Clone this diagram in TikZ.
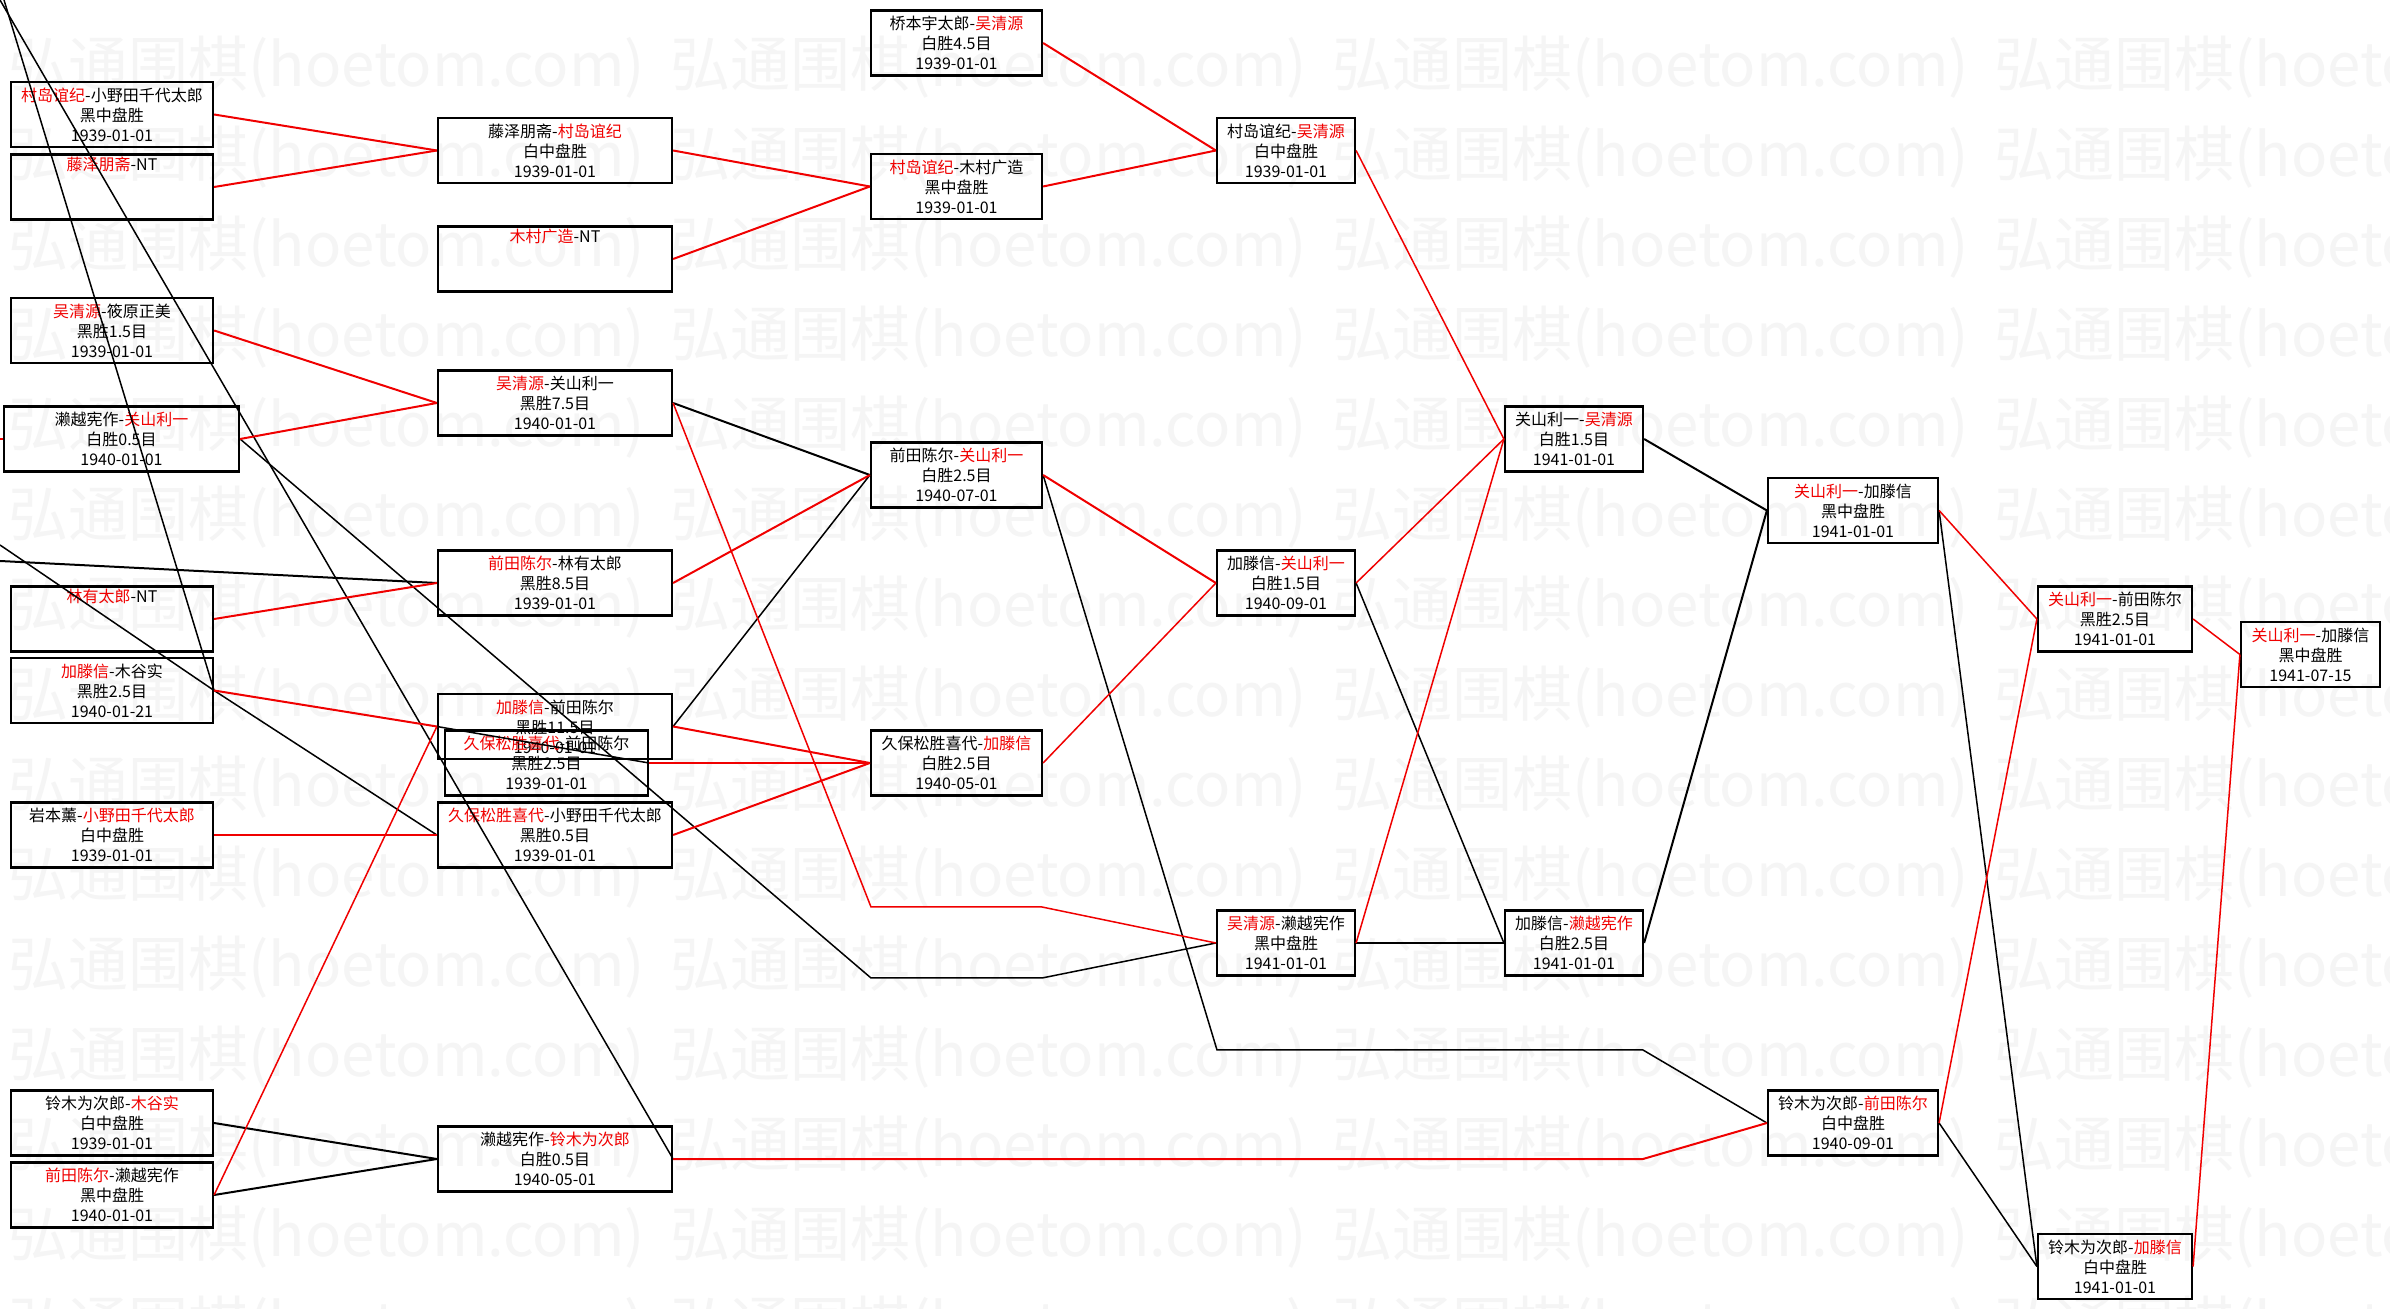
\documentclass[tikz,border=0pt]{standalone}
\usepackage{fontspec}
\setmainfont{Noto Sans CJK SC}
\usepackage{tikz}
\definecolor{hoetomred}{RGB}{240,0,0}
\newcommand{\winner}[1]{\textcolor{hoetomred}{#1}}
\tikzset{
	gamebox/.style={draw=black, line width=1.1pt, inner sep=0pt, minimum height=32.5pt,
		align=center, font=\fontsize{8pt}{10pt}\selectfont}
}
\tikzset{
	watermark/.style={text=black!4, inner sep=0pt, anchor=west, font=\fontsize{30pt}{30pt}\selectfont}
}

\begin{document}
\begin{tikzpicture}[x=0.5pt, y=-0.5pt]

	\tikzset{
		winline/.style={draw=hoetomred, line width=1pt},
		loseline/.style={draw=black, line width=1pt},
		thinwin/.style={draw=hoetomred, line width=0.75pt},
		thinlose/.style={draw=black, line width=0.75pt}
	}

	\useasboundingbox (0,0) rectangle (2390,1309);
	\fill[white] (0,0) rectangle (2390,1309);
	\clip (0,0) rectangle (2390,1309);

	% watermark rows
	\foreach \r in {0,...,14}
		\foreach \c in {0,...,3}
			\node[watermark, name=wm\r-\c] at (8+662*\c, 67+90*\r) {弘通围棋(hoetom.com)};

	% round 1
	\node[gamebox, minimum width=101pt] (n1) at (112,114.5) {\winner{村岛谊纪}-小野田千代太郎\\黑中盘胜\\1939-01-01};
	\node[gamebox, minimum width=101pt] (n2) at (112,187) {\winner{藤泽朋斋}-NT\\\strut\\\strut};
	\node[gamebox, minimum width=101pt] (n3) at (112,330.5) {\winner{吴清源}-筱原正美\\黑胜1.5目\\1939-01-01};
	\node[gamebox, minimum width=117.5pt] (n4) at (121.5,439) {濑越宪作-\winner{关山利一}\\白胜0.5目\\1940-01-01};
	\node[gamebox, minimum width=101pt] (n5) at (112,619) {\winner{林有太郎}-NT\\\strut\\\strut};
	\node[gamebox, minimum width=101pt] (n6) at (112,690.5) {\winner{加滕信}-木谷实\\黑胜2.5目\\1940-01-21};
	\node[gamebox, minimum width=101pt] (n7) at (112,835) {岩本薰-\winner{小野田千代太郎}\\白中盘胜\\1939-01-01};
	\node[gamebox, minimum width=101pt] (n8) at (112,1123) {铃木为次郎-\winner{木谷实}\\白中盘胜\\1939-01-01};
	\node[gamebox, minimum width=101pt] (n9) at (112,1195) {\winner{前田陈尔}-濑越宪作\\黑中盘胜\\1940-01-01};

	% round 2
	\node[gamebox, minimum width=117pt] (m1) at (555,150.5) {藤泽朋斋-\winner{村岛谊纪}\\白中盘胜\\1939-01-01};
	\node[gamebox, minimum width=117pt] (m2) at (555,259) {\winner{木村广造}-NT\\\strut\\\strut};
	\node[gamebox, minimum width=117pt] (m3) at (555,403) {\winner{吴清源}-关山利一\\黑胜7.5目\\1940-01-01};
	\node[gamebox, minimum width=117pt] (m4) at (555,583) {\winner{前田陈尔}-林有太郎\\黑胜8.5目\\1939-01-01};
	\node[gamebox, minimum width=117pt] (m5) at (555,726.5) {\winner{加滕信}-前田陈尔\\黑胜11.5目\\1940-01-01};
	\node[gamebox, minimum width=101.5pt] (m6) at (546.5,763) {\winner{久保松胜喜代}-前田陈尔\\黑胜2.5目\\1939-01-01};
	\node[gamebox, minimum width=117pt] (m7) at (555,835) {\winner{久保松胜喜代}-小野田千代太郎\\黑胜0.5目\\1939-01-01};
	\node[gamebox, minimum width=117pt] (m8) at (555,1159) {濑越宪作-\winner{铃木为次郎}\\白胜0.5目\\1940-05-01};

	% round 3
	\node[gamebox, minimum width=85.5pt] (q1) at (956.5,43) {桥本宇太郎-\winner{吴清源}\\白胜4.5目\\1939-01-01};
	\node[gamebox, minimum width=85.5pt] (q2) at (956.5,186.5) {\winner{村岛谊纪}-木村广造\\黑中盘胜\\1939-01-01};
	\node[gamebox, minimum width=85.5pt] (q3) at (956.5,475) {前田陈尔-\winner{关山利一}\\白胜2.5目\\1940-07-01};
	\node[gamebox, minimum width=85.5pt] (q4) at (956.5,763) {久保松胜喜代-\winner{加滕信}\\白胜2.5目\\1940-05-01};

	% round 4
	\node[gamebox, minimum width=69pt] (r1) at (1286,150.5) {村岛谊纪-\winner{吴清源}\\白中盘胜\\1939-01-01};
	\node[gamebox, minimum width=69pt] (r2) at (1286,583) {加滕信-\winner{关山利一}\\白胜1.5目\\1940-09-01};
	\node[gamebox, minimum width=69pt] (r3) at (1286,943) {\winner{吴清源}-濑越宪作\\黑中盘胜\\1941-01-01};

	% round 5
	\node[gamebox, minimum width=69pt] (s1) at (1574,439) {关山利一-\winner{吴清源}\\白胜1.5目\\1941-01-01};
	\node[gamebox, minimum width=69pt] (s2) at (1574,943) {加滕信-\winner{濑越宪作}\\白胜2.5目\\1941-01-01};

	% round 6
	\node[gamebox, minimum width=85pt] (t1) at (1853,510.5) {\winner{关山利一}-加滕信\\黑中盘胜\\1941-01-01};
	\node[gamebox, minimum width=85pt] (t2) at (1853,1123) {铃木为次郎-\winner{前田陈尔}\\白中盘胜\\1940-09-01};

	% round 7
	\node[gamebox, minimum width=77pt] (u1) at (2115,619) {\winner{关山利一}-前田陈尔\\黑胜2.5目\\1941-01-01};
	\node[gamebox, minimum width=77pt] (u2) at (2115,1266.5) {铃木为次郎-\winner{加滕信}\\白中盘胜\\1941-01-01};

	% final
	\node[gamebox, minimum width=69.5pt] (v1) at (2310.5,654.5) {\winner{关山利一}-加滕信\\黑中盘胜\\1941-07-15};

	% loose ends and bends
	\coordinate (edgeA) at (4,0);
	\coordinate (edgeB) at (0,0);
	\coordinate (edgeC) at (0,545);
	\coordinate (edgeD) at (0,561);
	\coordinate (edgeE) at (0,439);
	\coordinate (bendA1) at (871,907);
	\coordinate (bendA2) at (1042,907);
	\coordinate (bendB1) at (871,978);
	\coordinate (bendB2) at (1042,978);
	\coordinate (bendC1) at (1217,1050);
	\coordinate (bendC2) at (1643,1050);
	\coordinate (bendD1) at (1643,1159);

	% black connectors
	\draw[loseline] (n8.east) -- (m8.west);
	\draw[loseline] (n9.east) -- (m8.west);
	\draw[loseline] (edgeD) -- (m4.west);
	\draw[loseline] (m3.east) -- (q3.west);
	\draw[thinlose] (m5.east) -- (q3.west);
	\draw[thinlose] (m5.west) -- (m6.east);
	\draw[thinlose] (edgeA) -- (n6.east);
	\draw[thinlose] (edgeB) -- (m8.east);
	\draw[thinlose] (edgeC) -- (n6.east) -- (m7.west);
	\draw[thinlose] (n4.east) -- (bendB1) -- (bendB2) -- (r3.west);
	\draw[thinlose] (q3.east) -- (bendC1) -- (bendC2) -- (t2.west);
	\draw[thinlose] (r2.east) -- (s2.west);
	\draw[loseline] (r3.east) -- (s2.west);
	\draw[loseline] (s1.east) -- (t1.west);
	\draw[loseline] (s2.east) -- (t1.west);
	\draw[thinlose] (t1.east) -- (u2.west);
	\draw[thinlose] (t2.east) -- (u2.west);

	% red connectors
	\draw[winline] (edgeE) -- (n4.west);
	\draw[winline] (n1.east) -- (m1.west);
	\draw[winline] (n2.east) -- (m1.west);
	\draw[winline] (n3.east) -- (m3.west);
	\draw[winline] (n4.east) -- (m3.west);
	\draw[winline] (n5.east) -- (m4.west);
	\draw[winline] (n6.east) -- (m5.west);
	\draw[thinwin] (n9.east) -- (m5.west);
	\draw[winline] (n7.east) -- (m7.west);
	\draw[winline] (m1.east) -- (q2.west);
	\draw[winline] (m2.east) -- (q2.west);
	\draw[winline] (m4.east) -- (q3.west);
	\draw[winline] (m5.east) -- (q4.west);
	\draw[winline] (m6.east) -- (q4.west);
	\draw[winline] (m7.east) -- (q4.west);
	\draw[thinwin] (m3.east) -- (bendA1) -- (bendA2) -- (r3.west);
	\draw[winline] (m8.east) -- (bendD1) -- (t2.west);
	\draw[winline] (q1.east) -- (r1.west);
	\draw[winline] (q2.east) -- (r1.west);
	\draw[winline] (q3.east) -- (r2.west);
	\draw[thinwin] (q4.east) -- (r2.west);
	\draw[thinwin] (r1.east) -- (s1.west);
	\draw[thinwin] (r2.east) -- (s1.west);
	\draw[thinwin] (r3.east) -- (s1.west);
	\draw[thinwin] (t1.east) -- (u1.west);
	\draw[thinwin] (t2.east) -- (u1.west);
	\draw[thinwin] (u1.east) -- (v1.west);
	\draw[thinwin] (u2.east) -- (v1.west);

\end{tikzpicture}
\end{document}
